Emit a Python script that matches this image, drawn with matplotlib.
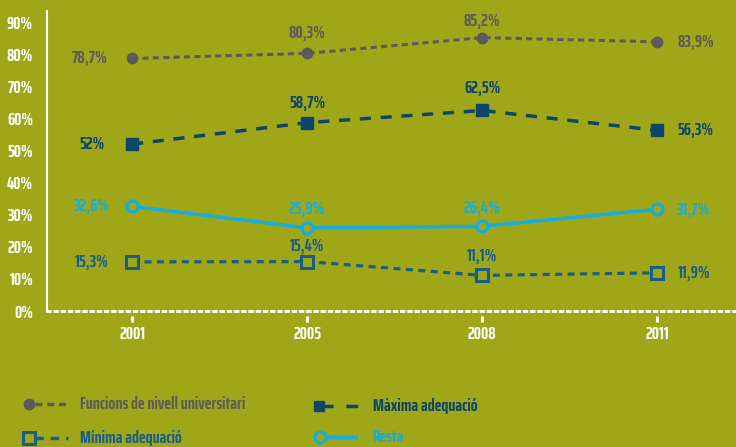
import matplotlib
matplotlib.use("Agg")
import matplotlib.pyplot as plt
from matplotlib.lines import Line2D
import matplotlib.transforms as mtransforms

years = ["2001", "2005", "2008", "2011"]
funcions = [78.7, 80.3, 85.2, 83.9]
maxima = [52.0, 58.7, 62.5, 56.3]
resta = [32.6, 25.9, 26.4, 31.7]
minima = [15.3, 15.4, 11.1, 11.9]
yticks = [0, 10, 20, 30, 40, 50, 60, 70, 80, 90]

BG = "#9fa617"
GRAY = "#5e5a5c"
NAVY = "#0c4669"
BLUE = "#195d89"
CYAN = "#12ade2"
FONT = ["Saira ExtraCondensed", "DejaVu Sans"]
FS = 13
WT = 700

plt.rcParams["font.family"] = FONT
plt.rcParams["font.stretch"] = "condensed"
plt.rcParams["font.weight"] = WT

W, H = 736, 447
fig = plt.figure(figsize=(W / 100, H / 100), dpi=100, facecolor=BG)
ax = fig.add_axes([47 / W, (H - 311) / H, 1 - 47 / W, (311 - 11) / H])
ax.set_facecolor(BG)

x = list(range(len(years)))

ax.plot(x, funcions, color=GRAY, lw=2.2, dashes=(2.0, 1.4), marker="o", ms=7.5,
        mfc=GRAY, mec=GRAY, zorder=3)
ax.plot(x, maxima, color=NAVY, lw=2.5, dashes=(3.2, 2.8), marker="s", ms=8,
        mfc=NAVY, mec=NAVY, zorder=3)
ax.plot(x, resta, color=CYAN, lw=2.5, marker="o", ms=8, mfc=BG, mec=CYAN,
        mew=2.2, zorder=3)
ax.plot(x, minima, color=BLUE, lw=2.3, dashes=(2.2, 1.7), marker="s", ms=8.5,
        mfc=BG, mec=BLUE, mew=2.2, zorder=3)

def fmt(v):
    s = ("%.1f" % v).replace(".", ",")
    if s.endswith(",0"):
        s = s[:-2]
    return s + "%"

def label(vals, color, offs):
    for i, v in enumerate(vals):
        dx, dy = offs[i]
        ha = "right" if dx < 0 else ("left" if dx > 0 else "center")
        ax.annotate(fmt(v), (i, v), xytext=(dx, dy), textcoords="offset pixels",
                    ha=ha, va="center", color=color, fontsize=FS,
                    fontweight=WT, zorder=4)

label(funcions, GRAY, [(-24, 0), (0, 20), (0, 17), (20, 0)])
label(maxima, NAVY, [(-28, 0), (0, 20), (0, 22), (20, 0)])
label(resta, CYAN, [(-22, 0), (0, 19), (0, 18), (20, -1)])
label(minima, BLUE, [(-24, 0), (0, 16), (0, 19), (20, 0)])

ax.set_xlim(-0.486, 3.45)
ax.set_ylim(0, 93.5)
ax.set_yticks(yticks)
ax.set_yticklabels([f"{t}%" for t in yticks])
ax.set_xticks(x)
ax.set_xticklabels(years)
ax.tick_params(axis="y", length=0, colors="white", labelsize=FS, pad=10)
ax.tick_params(axis="x", length=0, colors="white", labelsize=FS, pad=11)
for lab in ax.get_xticklabels() + ax.get_yticklabels():
    lab.set_fontweight(WT)
    lab.set_color("white")

# detached small tick marks below the axis
trans = mtransforms.blended_transform_factory(ax.transData, ax.transAxes)
ax.plot(x, [-0.026] * len(x), transform=trans, ls="none", marker="|", ms=5,
        mew=2.2, color="white", clip_on=False)

for s in ["top", "right"]:
    ax.spines[s].set_visible(False)
ax.spines["left"].set_color("white")
ax.spines["left"].set_linewidth(1.5)
ax.spines["bottom"].set_color("white")
ax.spines["bottom"].set_linewidth(2)
ax.spines["bottom"].set_linestyle((0, (1, 1.6)))

def fx(px):
    return px / W

def fy(py):
    return (H - py) / H

def leg_item(xm, y, xl0, xl1, color, marker, mfc, dashes, text, tx, ms=7.5, mew=1.0):
    ln = Line2D([fx(xl0), fx(xl1)], [fy(y), fy(y)], color=color, lw=2.5,
                transform=fig.transFigure)
    if dashes is not None:
        ln.set_dashes(dashes)
    fig.add_artist(ln)
    fig.add_artist(Line2D([fx(xm)], [fy(y)], marker=marker, ms=ms, mfc=mfc,
                          mec=color, mew=mew, transform=fig.transFigure))
    fig.text(fx(tx), fy(y), text, color=color, fontsize=FS, fontweight=WT,
             ha="left", va="center")

leg_item(29, 404, 35, 68, GRAY, "o", GRAY, (2.0, 1.4),
         "Funcions de nivell universitari", 80)
leg_item(319, 406, 323, 358, NAVY, "s", NAVY, (2.9, 3.7, 3.4, 10),
         "Màxima adequació", 373)
leg_item(29, 438, 35, 68, BLUE, "s", BG, (2.4, 2.0),
         "Mínima adequació", 80, ms=8, mew=2.2)
leg_item(320, 437, 326, 356, CYAN, "o", BG, None,
         "Resta", 372, ms=8, mew=2.2)

fig.savefig("out.png", dpi=100, facecolor=BG)
